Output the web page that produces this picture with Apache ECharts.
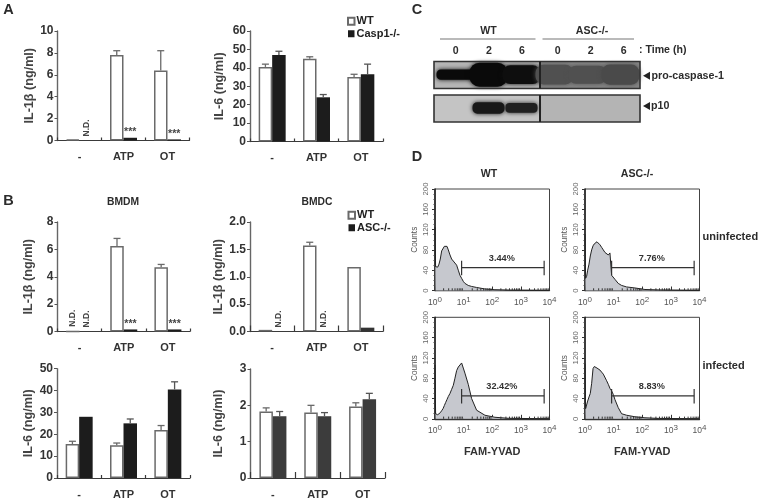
<!DOCTYPE html>
<html><head><meta charset="utf-8">
<style>html,body{margin:0;padding:0;background:#fff}#c{width:762px;height:500px}</style>
<script src="https://cdn.jsdelivr.net/npm/echarts@6/dist/echarts.min.js"></script>
</head><body><div id="c"></div>
<script>
const treatments = ['-', 'ATP', 'OT'];
const a1WT = [0.1, 7.8, 6.4],      a1WTtop = [null, 8.2, 8.2];
const a1KO = [0, 0.25, 0.1],       a1KOtop = [null, null, null];
const a2WT = [40.5, 45, 35],       a2WTtop = [42, 46, 36.5];
const a2KO = [47, 24, 36.5],       a2KOtop = [49, 25.5, 42];
const b1WT = [0, 6.25, 4.7],       b1WTtop = [null, 6.8, 4.9];
const b1KO = [0, 0.15, 0.15],      b1KOtop = [null, null, null];
const b2WT = [0.03, 1.57, 1.18],   b2WTtop = [null, 1.63, null];
const b2KO = [0, 0, 0.07],         b2KOtop = [null, null, null];
const b3WT = [15.5, 15, 22],       b3WTtop = [16.8, 16, 24];
const b3KO = [28, 25, 40.5],       b3KOtop = [null, 27, 44];
const b4WT = [1.83, 1.8, 1.97],    b4WTtop = [1.93, 2.0, 2.07];
const b4KO = [1.7, 1.7, 2.17],     b4KOtop = [1.83, 1.8, 2.33];
// bar annotations
const a1WTnote = ['', '', ''], a1KOnote = ['N.D.', '***', '***'];
const b1WTnote = ['N.D.', '', ''], b1KOnote = ['N.D.', '***', '***'];
const b2WTnote = ['', '', ''], b2KOnote = ['N.D.', 'N.D.', ''];

const fluor = [1, 1.05, 1.14, 1.24, 1.38, 1.53, 1.71, 1.91, 2.12, 2.35, 2.62, 2.92, 3.34, 3.81, 4.36, 4.98, 5.7, 6.51, 7.44, 8.51, 9.73, 11.1, 14.5, 19, 28.4, 55.5, 124, 362, 9800];
const wtUninf  = [125, 47, 48, 46, 52, 62, 78, 80, 87, 85, 87, 80, 70, 62, 58, 55, 50, 40, 30, 24, 18, 14, 10, 8, 6, 3, 1.5, 0.7, 0];
const ascUninf = [111, 24, 28, 40, 52, 68, 80, 88, 92, 94, 96, 97, 90, 85, 80, 75, 72, 70, 74, 30, 27, 22, 14, 10, 7, 5, 2, 1, 0];
const wtInf    = [106, 10, 10, 8, 10, 12, 16, 20, 26, 32, 38, 44, 50, 58, 66, 80, 95, 102, 106, 110, 100, 90, 68, 40, 17, 7, 3, 1, 0];
const ascInf   = [109, 20, 22, 35, 43, 50, 70, 99, 103, 105, 100, 98, 96, 92, 88, 85, 75, 68, 60, 55, 48, 38, 22, 10, 7, 4, 2, 0.8, 0];
const gateFrom = 8.5, gateTo = 6500, gateCount = 45;
const logMinorTicks = [2, 3, 4, 5, 6, 7, 8, 9, 20, 30, 40, 50, 60, 70, 80, 90, 200, 300, 400, 500, 600, 700, 800, 900, 2000, 3000, 4000, 5000, 6000, 7000, 8000, 9000];

const blotLanes = ['0', '2', '6', '0', '2', '6'];
const procaspHeight = [0.38, 0.88, 0.68, 0.72, 0.66, 0.74];
const procaspShade  = ['#0a0a0a', '#0a0a0a', '#0e0e0e', '#505050', '#505050', '#4a4a4a'];
const p10Height = [0, 0.42, 0.36, 0, 0, 0];
const p10Shade  = ['#c0c0c0', '#181818', '#202020', '#b0b0b0', '#b0b0b0', '#b0b0b0'];

const FONT = '"Liberation Sans", Arial, sans-serif';
const grids = [], xAxes = [], yAxes = [], series = [], gfx = [];
const BAR = 13.5;

function barPanel(cfg) {
  const i = grids.length;
  grids.push({left: cfg.x, top: cfg.top, width: cfg.w, height: cfg.h, show: false});
  xAxes.push({gridIndex: i, type: 'category', data: treatments,
    axisLine: {lineStyle: {color: '#3a3a3a', width: 1.2}},
    axisTick: {show: true, inside: true, length: cfg.tick || 3, lineStyle: {color: '#3a3a3a', width: 1.2}},
    axisLabel: {fontFamily: FONT, fontWeight: 'bold', fontSize: 11, color: '#333', margin: 11, interval: 0}});
  yAxes.push({gridIndex: i, type: 'value', min: 0, max: cfg.max, interval: cfg.step,
    splitLine: {show: false},
    axisLine: {show: true, lineStyle: {color: '#666', width: 1.4}},
    axisTick: {show: true, length: 3, lineStyle: {color: '#555'}},
    axisLabel: {fontFamily: FONT, fontWeight: 'bold', fontSize: 12, color: '#333', margin: 4,
      formatter: cfg.fixed ? (v => v.toFixed(1)) : (v => String(v))},
    name: cfg.yName, nameLocation: 'middle', nameGap: cfg.nameGap, nameRotate: 90,
    nameTextStyle: {fontFamily: FONT, fontWeight: 'bold', fontSize: 12.6, color: '#444'}});
  const bar = (name, vals, notes, color) => ({
    type: 'bar', name, xAxisIndex: i, yAxisIndex: i, barWidth: BAR, barGap: '0%',
    itemStyle: {color, borderColor: name === 'WT' ? '#6a6a6a' : color, borderWidth: name === 'WT' ? 1.5 : 0},
    data: vals.map((v, k) => {
      const n = notes && notes[k];
      if (!n) return v;
      const nd = n === 'N.D.';
      return {value: v, label: {show: true, formatter: n, position: 'top', distance: nd ? 4 : 0,
        rotate: nd ? 90 : 0, align: nd ? 'left' : 'center', verticalAlign: nd ? 'middle' : 'bottom',
        fontFamily: FONT, fontWeight: 'bold', fontSize: nd ? 8.5 : 10.5, color: '#444'}};
    })
  });
  series.push(bar('WT', cfg.wt, cfg.wtNote, '#fff'));
  series.push(bar(cfg.koName, cfg.ko, cfg.koNote, cfg.koColor || '#1c1c1c'));
  const err = (vals, tops, side, color) => ({
    type: 'custom', name: 'err', xAxisIndex: i, yAxisIndex: i, encode: {x: 0, y: [1, 2]}, z: 3,
    data: vals.map((v, k) => [k, v, tops[k]]).filter(r => r[2] !== null),
    renderItem(params, api) {
      const b = api.coord([api.value(0), api.value(1)]);
      const t = api.coord([api.value(0), api.value(2)]);
      const x = b[0] + side * BAR / 2;
      const st = {stroke: color, lineWidth: 1.3, fill: null};
      return {type: 'group', children: [
        {type: 'line', shape: {x1: x, y1: b[1], x2: x, y2: t[1]}, style: st},
        {type: 'line', shape: {x1: x - 3.5, y1: t[1], x2: x + 3.5, y2: t[1]}, style: st}]};
    }
  });
  series.push(err(cfg.wt, cfg.wtTop, -1, '#6a6a6a'));
  series.push(err(cfg.ko, cfg.koTop, 1, '#555'));
}

barPanel({x: 57.5, top: 31, w: 132, h: 109.5, max: 10, step: 2, yName: 'IL-1β (ng/ml)', koName: 'Casp1-/-', nameGap: 20,
  wt: a1WT, wtTop: a1WTtop, ko: a1KO, koTop: a1KOtop, wtNote: a1WTnote, koNote: a1KOnote});
barPanel({x: 250, top: 31, w: 133, h: 110.5, max: 60, step: 10, yName: 'IL-6 (ng/ml)', koName: 'Casp1-/-', nameGap: 24,
  wt: a2WT, wtTop: a2WTtop, ko: a2KO, koTop: a2KOtop});
barPanel({x: 57.5, top: 222, w: 132.5, h: 109.5, max: 8, step: 2, yName: 'IL-1β (ng/ml)', koName: 'ASC-/-', nameGap: 22,
  wt: b1WT, wtTop: b1WTtop, ko: b1KO, koTop: b1KOtop, wtNote: b1WTnote, koNote: b1KOnote});
barPanel({x: 250, top: 222, w: 133, h: 109.5, max: 2, step: 0.5, fixed: true, yName: 'IL-1β (ng/ml)', koName: 'ASC-/-', koColor: '#333', tick: 6, nameGap: 25,
  wt: b2WT, wtTop: b2WTtop, ko: b2KO, koTop: b2KOtop, wtNote: b2WTnote, koNote: b2KOnote});
barPanel({x: 57, top: 368.7, w: 133, h: 109.3, max: 50, step: 10, yName: 'IL-6 (ng/ml)', koName: 'ASC-/-', nameGap: 22,
  wt: b3WT, wtTop: b3WTtop, ko: b3KO, koTop: b3KOtop});
barPanel({x: 250.5, top: 369, w: 134.5, h: 109.3, max: 3, step: 1, yName: 'IL-6 (ng/ml)', koName: 'ASC-/-', koColor: '#3c3c3c', tick: 6, nameGap: 25,
  wt: b4WT, wtTop: b4WTtop, ko: b4KO, koTop: b4KOtop});

function hist(cfg) {
  const i = grids.length;
  grids.push({left: cfg.x, top: cfg.top, width: 114.5, height: 101.5, show: true, backgroundColor: '#fff', borderColor: '#444', borderWidth: 1});
  xAxes.push({gridIndex: i, type: 'log', logBase: 10, min: 1, max: 10000, splitLine: {show: false}, minorSplitLine: {show: false},
    axisLine: {lineStyle: {color: '#333', width: 1.3}},
    axisTick: {show: true, inside: true, length: 4, lineStyle: {color: '#333'}},
    minorTick: {show: false},
    axisLabel: {margin: 5, color: '#555', showMaxLabel: true, showMinLabel: true,
      formatter: v => '{b|10}{s|' + Math.round(Math.log10(v)) + '}',
      rich: {b: {fontFamily: FONT, fontSize: 8.5, color: '#555'}, s: {fontFamily: FONT, fontSize: 8, color: '#555', padding: [0, 0, 6, 0]}}},
    name: cfg.xName || '', nameLocation: 'middle', nameGap: 28,
    nameTextStyle: {fontFamily: FONT, fontWeight: 'bold', fontSize: 11, color: '#333'}});
  yAxes.push({gridIndex: i, type: 'value', min: 0, max: 200, interval: 40, splitLine: {show: false},
    axisLine: {show: true, lineStyle: {color: '#222', width: 1.6}},
    axisTick: {show: true, length: 3, lineStyle: {color: '#333'}},
    minorTick: {show: true, splitNumber: 4, length: 1.5, lineStyle: {color: '#444'}},
    axisLabel: {rotate: 90, margin: 5, fontFamily: FONT, fontSize: 7.8, color: '#666'},
    name: 'Counts', nameLocation: 'middle', nameGap: 16, nameRotate: 90,
    nameTextStyle: {fontFamily: FONT, fontSize: 8.2, color: '#555'}});
  series.push({type: 'line', name: cfg.name, xAxisIndex: i, yAxisIndex: i, showSymbol: false, z: 2,
    data: fluor.map((f, k) => [f, cfg.counts[k]]),
    lineStyle: {color: '#222', width: 1}, areaStyle: {color: '#c6c8ce', opacity: 1}});
  series.push({type: 'custom', name: 'minor', xAxisIndex: i, yAxisIndex: i, z: 3, clip: false,
    encode: {x: 0, y: 1}, data: logMinorTicks.map(v => [v, 0]),
    renderItem(params, api) {
      const p = api.coord([api.value(0), 0]);
      return {type: 'line', shape: {x1: p[0], y1: p[1], x2: p[0], y2: p[1] - 2.2}, style: {stroke: '#333', lineWidth: 1}};
    }});
  series.push({type: 'custom', name: 'gate', xAxisIndex: i, yAxisIndex: i, z: 4, clip: false,
    encode: {x: [0, 1], y: 2}, data: [[gateFrom, gateTo, gateCount]],
    renderItem(params, api) {
      const a = api.coord([api.value(0), api.value(2)]);
      const b = api.coord([api.value(1), api.value(2)]);
      const st = {stroke: '#333', lineWidth: 1.2, fill: null};
      return {type: 'group', children: [
        {type: 'line', shape: {x1: a[0], y1: a[1], x2: b[0], y2: b[1]}, style: st},
        {type: 'line', shape: {x1: a[0], y1: a[1] - 7, x2: a[0], y2: a[1] + 7.5}, style: st},
        {type: 'line', shape: {x1: b[0], y1: b[1] - 7, x2: b[0], y2: b[1] + 7.5}, style: st},
        {type: 'text', style: {x: (a[0] + b[0]) / 2 - 1, y: a[1] - 9.5, text: cfg.pct, fill: '#333', align: 'center', verticalAlign: 'middle',
          font: 'bold 9.2px ' + FONT}}]};
    }});
}
hist({x: 435, top: 189, counts: wtUninf, pct: '3.44%', name: 'WT uninfected'});
hist({x: 585, top: 189, counts: ascUninf, pct: '7.76%', name: 'ASC uninfected'});
hist({x: 435, top: 317.3, counts: wtInf, pct: '32.42%', name: 'WT infected', xName: 'FAM-YVAD'});
hist({x: 585, top: 317.3, counts: ascInf, pct: '8.83%', name: 'ASC infected', xName: 'FAM-YVAD'});

function blot(top, heights, shades, overlap) {
  const i = grids.length;
  grids.push({left: 439, top, width: 198, height: 27.3, show: false});
  xAxes.push({gridIndex: i, type: 'category', data: blotLanes, show: false});
  yAxes.push({gridIndex: i, type: 'value', min: 0, max: 1, show: false});
  series.push({type: 'custom', name: 'blot', xAxisIndex: i, yAxisIndex: i, z: 2, clip: false,
    encode: {x: 0, y: 1},
    data: heights.map((h, k) => [k, h]).filter(r => r[1] > 0),
    renderItem(params, api) {
      const k = api.value(0), h = api.size([0, api.value(1)])[1];
      const c = api.coord([k, 0.5]), w = api.size([1, 0])[0] + overlap;
      return {type: 'rect', shape: {x: c[0] - w / 2, y: c[1] - h / 2, width: w, height: h, r: h / 2.4},
        style: {fill: shades[k], shadowBlur: 4, shadowColor: shades[k]}};
    }});
}
blot(61, procaspHeight, procaspShade, 5);
blot(94.3, p10Height, p10Shade, -1);

// blot backgrounds and frames
const R = (x, y, w, h, fill, stroke, z) => ({type: 'rect', z: z || 0, shape: {x, y, width: w, height: h},
  style: {fill: fill || 'none', stroke: stroke || 'none', lineWidth: stroke ? 1.6 : 0}});
gfx.push(R(434, 61.5, 106, 27, '#b5b5b5'), R(540, 61.5, 100, 27, '#858585'),
         R(434, 95, 106, 27, '#c4c4c4'), R(540, 95, 100, 27, '#b4b4b4'));
gfx.push(R(434, 61.5, 206, 27, null, '#333', 5), R(434, 95, 206, 27, null, '#333', 5));
[[540, 61.5], [540, 95]].forEach(p => gfx.push({type: 'line', z: 5, shape: {x1: p[0], y1: p[1], x2: p[0], y2: p[1] + 27}, style: {stroke: '#222', lineWidth: 2}}));
gfx.push({type: 'line', z: 5, shape: {x1: 440, y1: 39, x2: 535.5, y2: 39}, style: {stroke: '#777', lineWidth: 1.2}});
gfx.push({type: 'line', z: 5, shape: {x1: 542.5, y1: 39, x2: 634, y2: 39}, style: {stroke: '#777', lineWidth: 1.2}});
const tri = (x, y) => ({type: 'polygon', z: 5, shape: {points: [[x, y - 4], [x, y + 4], [x - 7, y]]}, style: {fill: '#222'}});
gfx.push(tri(650, 75.7), tri(650, 106));

const T = (x, y, text, size, align, extra) => ({type: 'text', z: 6,
  style: Object.assign({x, y, text, font: 'bold ' + size + 'px ' + FONT, fill: '#2c2c2c', textAlign: align || 'center', textVerticalAlign: 'middle'}, extra || {})});
gfx.push(T(8.5, 10, 'A', 14.5), T(8.5, 201, 'B', 14.5), T(417, 10, 'C', 14.5), T(417, 157, 'D', 14.5));
gfx.push(T(123, 202, 'BMDM', 10.3), T(317, 202, 'BMDC', 10.3));
gfx.push(T(488.5, 31.5, 'WT', 10.6), T(592, 31.5, 'ASC-/-', 10.6));
[455.7, 489, 522, 557.7, 590.7, 623.7].forEach((x, k) => gfx.push(T(x, 51, blotLanes[k], 10.6)));
gfx.push(T(639, 50.5, ': Time (h)', 10.6, 'left'));
gfx.push(T(651.5, 76, 'pro-caspase-1', 10.7, 'left'), T(651, 106, 'p10', 10.7, 'left'));
gfx.push(T(489, 174, 'WT', 10.6), T(637, 174, 'ASC-/-', 10.6));
gfx.push(T(702.5, 236.5, 'uninfected', 11, 'left'), T(702.5, 366, 'infected', 11, 'left'));

const legend = (left, top, name2) => ({left, top, padding: 0, orient: 'vertical', icon: 'rect', itemWidth: 6.5, itemHeight: 7, itemGap: 0, selectedMode: false,
  data: ['WT', name2], textStyle: {fontFamily: FONT, fontWeight: 'bold', fontSize: 11, color: '#222', lineHeight: 12.5, padding: [0, 0, 0, -3]}});

const chart = echarts.init(document.getElementById('c'), null, {renderer: 'canvas'});
chart.setOption({
  animation: false, backgroundColor: '#fff',
  grid: grids, xAxis: xAxes, yAxis: yAxes, series,
  legend: [legend(347, 15, 'Casp1-/-'), legend(347.5, 209, 'ASC-/-')],
  graphic: {elements: gfx}
});
</script></body></html>
